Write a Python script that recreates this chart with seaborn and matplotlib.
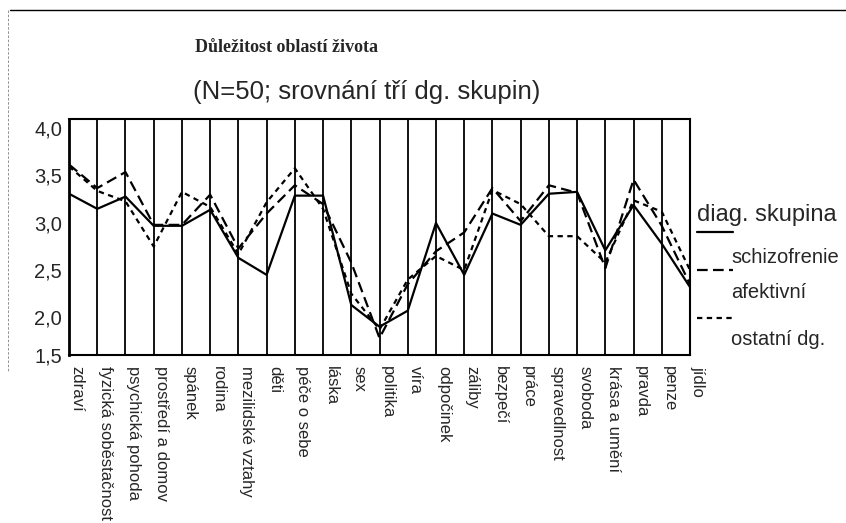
import pandas as pd
import seaborn as sns
import matplotlib
matplotlib.use("Agg")
import matplotlib.pyplot as plt
from matplotlib.lines import Line2D
from matplotlib.transforms import ScaledTranslation

# oblasti života (osa x)
oblasti = ["zdraví", "fyzická soběstačnost", "psychická pohoda", "prostředí a domov",
           "spánek", "rodina", "mezilidské vztahy", "děti", "péče o sebe", "láska",
           "sex", "politika", "víra", "odpočinek", "záliby", "bezpečí", "práce",
           "spravedlnost", "svoboda", "krása a umění", "pravda", "penze", "jídlo"]

# průměry pro jednotlivé dg. skupiny
schizofrenie = [3.21, 3.05, 3.18, 2.87, 2.87, 3.04, 2.53, 2.35, 3.19, 3.19, 2.03, 1.80,
                1.97, 2.90, 2.35, 3.00, 2.88, 3.21, 3.23, 2.61, 3.09, 2.68, 2.22]
afektivni = [3.52, 3.27, 3.44, 2.88, 2.88, 3.20, 2.63, 3.00, 3.30, 3.10, 2.48, 1.68,
             2.25, 2.60, 2.80, 3.27, 2.92, 3.30, 3.22, 2.42, 3.36, 2.87, 2.25]
ostatni = [3.50, 3.24, 3.13, 2.65, 3.23, 3.07, 2.57, 3.12, 3.48, 3.05, 2.15, 1.77,
           2.30, 2.55, 2.40, 3.25, 3.10, 2.76, 2.76, 2.48, 3.14, 3.02, 2.40]

skupiny = ["schizofrenie", "afektivní", "ostatní dg."]
y_ticks = [1.5, 2.0, 2.5, 3.0, 3.5, 4.0]
y_labels = ["1,5", "2,0", "2,5", "3,0", "3,5", "4,0"]

df = pd.DataFrame({
    "oblast": oblasti * 3,
    "hodnota": schizofrenie + afektivni + ostatni,
    "skupina": [s for s in skupiny for _ in oblasti],
})

sns.set_style("white")
plt.rcParams["font.family"] = ["Liberation Sans", "DejaVu Sans"]

dashes = {"schizofrenie": "", "afektivní": (4.8, 2.4), "ostatní dg.": (2.4, 2.0)}

fig = plt.figure(figsize=(8.46, 5.23), dpi=100)
ax = fig.add_axes([0.0816, 0.3212, 0.7340, 0.4508])

sns.lineplot(data=df, x="oblast", y="hodnota", hue="skupina", style="skupina",
             palette=["black"] * 3, dashes=dashes, linewidth=1.6, sort=False,
             estimator=None, legend=False, ax=ax)

ax.set_xlim(0, len(oblasti) - 1)
ax.set_ylim(1.5, 4.0)
ax.set_xlabel("")
ax.set_ylabel("")

# svislé čáry u každé oblasti
ax.xaxis.grid(True, color="black", linewidth=1.3)
ax.yaxis.grid(False)
for side, sp in ax.spines.items():
    sp.set_visible(True)
    sp.set_color("black")
    sp.set_linewidth(1.5)
ax.spines["left"].set_linewidth(2)

ax.set_yticks(y_ticks, y_labels, fontsize=14.5)
ax.tick_params(axis="y", direction="out", length=4, width=3, color="black", pad=1)
for lab in ax.get_yticklabels()[1:]:
    lab.set_transform(lab.get_transform() + ScaledTranslation(0, -0.09, fig.dpi_scale_trans))

ax.set_xticks(range(len(oblasti)), oblasti, rotation=270, fontsize=12,
              ha="center", va="top")
ax.tick_params(axis="x", direction="out", length=3, width=1.5, color="black", pad=5)
for lab in ax.get_xticklabels():
    lab.set_transform(lab.get_transform() + ScaledTranslation(0.08, 0, fig.dpi_scale_trans))

# nadpisy
fig.text(0.339, 0.910, "Důležitost oblastí života", family="Liberation Serif",
         weight="bold", fontsize=13, ha="center", va="center")
fig.text(0.434, 0.824, "(N=50; srovnání tří dg. skupin)", fontsize=18.5,
         ha="center", va="center")

# legenda
fig.text(0.824, 0.589, "diag. skupina", fontsize=17, ha="left", va="center")
leg_y = [0.556, 0.484, 0.392]
txt_y = [0.507, 0.440, 0.350]
for s, ly, ty in zip(skupiny, leg_y, txt_y):
    ls = "-" if dashes[s] == "" else (0, dashes[s])
    fig.add_artist(Line2D([0.824, 0.866], [ly, ly], transform=fig.transFigure,
                          color="black", linewidth=1.6, linestyle=ls))
    fig.text(0.864, ty, s, fontsize=14.5, ha="left", va="center")

# rámeček skenu
fig.add_artist(Line2D([0.012, 1.0], [0.981, 0.981], transform=fig.transFigure,
                      color="black", linewidth=1))
fig.add_artist(Line2D([0.0095, 0.0095], [0.98, 0.29], transform=fig.transFigure,
                      color="gray", linewidth=0.6, linestyle=(0, (3, 2))))

fig.savefig("out.png", dpi=100)
